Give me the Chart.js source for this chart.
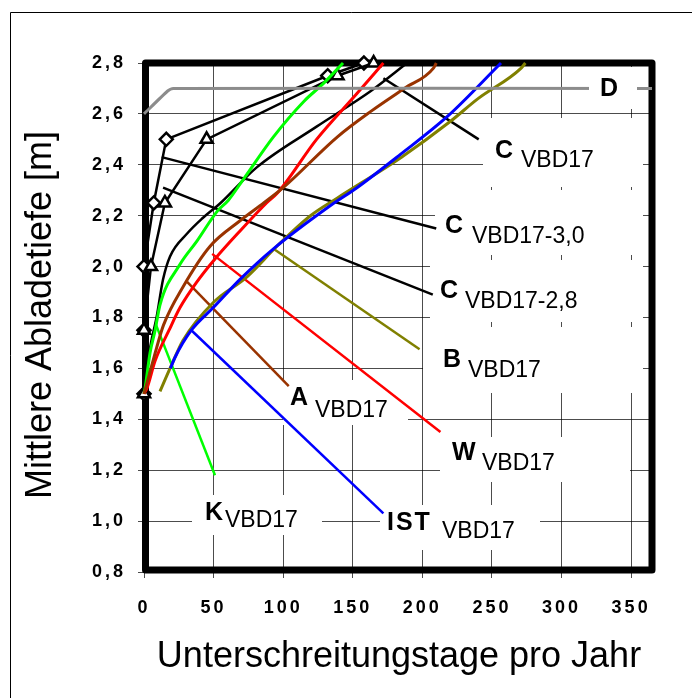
<!DOCTYPE html>
<html>
<head>
<meta charset="utf-8">
<script src="https://cdn.jsdelivr.net/npm/chart.js@4.4.0/dist/chart.umd.min.js"></script>
<style>
  html, body { margin: 0; padding: 0; background: #fff; }
  #wrap { width: 692px; height: 698px; }
</style>
</head>
<body>
<div id="wrap"><canvas id="chart" width="692" height="698"></canvas></div>
<script>
// depths at which the marked curves were computed
const markDepths = [1.5, 1.75, 2.0, 2.25, 2.5, 2.75, 2.8];
const daysC30 = [0, 0, 0, 7, 16, 132, 158];   // C VBD17-3,0 (diamonds)
const daysC28 = [0, 0, 5, 15, 45, 139, 165];  // C VBD17-2,8 (triangles)

// C VBD17
const cDays  = [0, 2, 5, 9, 13.7, 18.7, 31, 42, 55, 81, 124, 163, 189];
const cDepth = [1.5, 1.6, 1.7, 1.8, 1.95, 2.04, 2.13, 2.19, 2.25, 2.39, 2.55, 2.69, 2.8];
// K VBD17
const kDays  = [0, 1, 4.3, 8, 11.5, 26, 38, 53, 60.5, 71, 93, 115, 129, 143];
const kDepth = [1.5, 1.53, 1.66, 1.75, 1.85, 2.01, 2.1, 2.22, 2.26, 2.34, 2.51, 2.65, 2.72, 2.8];
// W VBD17
const wDays  = [0, 2, 8, 18, 26, 38, 51, 69, 88, 96, 124, 153, 172];
const wDepth = [1.5, 1.52, 1.63, 1.75, 1.84, 1.94, 2.03, 2.14, 2.25, 2.29, 2.5, 2.68, 2.8];
// A VBD17
const aDays  = [0, 4, 9, 14, 28, 47.5, 69, 86, 100, 139, 163, 187, 208, 210];
const aDepth = [1.5, 1.58, 1.68, 1.77, 1.92, 2.08, 2.18, 2.25, 2.31, 2.51, 2.61, 2.7, 2.78, 2.8];
// B VBD17
const bDays  = [11.5, 18.7, 28, 50, 74, 95.5, 119.6, 139, 185, 220, 240, 271, 274];
const bDepth = [1.51, 1.6, 1.71, 1.86, 1.96, 2.08, 2.2, 2.27, 2.43, 2.57, 2.66, 2.78, 2.8];
// IST VBD17
const istDays  = [19, 22, 34, 50, 69, 93, 134, 153, 184, 218, 256.5];
const istDepth = [1.6, 1.64, 1.75, 1.84, 1.95, 2.07, 2.24, 2.31, 2.44, 2.59, 2.8];
// D
const dDays  = [0, 17, 21, 365];
const dDepth = [2.6, 2.69, 2.7, 2.7];

// leader lines [days, depth] start -> end
const leaders = [
  { color: '#000000', from: [172, 2.74], to: [240.5, 2.5] },
  { color: '#000000', from: [12.7, 2.43], to: [210, 2.15] },
  { color: '#000000', from: [13.7, 2.31], to: [207.5, 1.89] },
  { color: '#808000', from: [93, 2.07], to: [198, 1.675] },
  { color: '#993300', from: [31, 1.94], to: [104, 1.53] },
  { color: '#ff0000', from: [49, 2.05], to: [213, 1.35] },
  { color: '#0000ff', from: [34, 1.75], to: [172, 1.03] },
  { color: '#00ff00', from: [8, 1.78], to: [51, 1.18] }
];

const xTicks = [0, 50, 100, 150, 200, 250, 300, 350];

function pts(xs, ys) { return xs.map((x, i) => ({ x: x, y: ys[i] })); }

function curve(data, color, width) {
  return { data: data, borderColor: color, borderWidth: width, pointRadius: 0,
    cubicInterpolationMode: 'monotone', fill: false, clip: 6 };
}

const datasets = [
  { data: pts(dDays, dDepth), borderColor: '#8c8c8c', borderWidth: 3, pointRadius: 0, tension: 0.2, fill: false, clip: 6 },
  curve(pts(istDays, istDepth), '#0000ff', 3),
  curve(pts(bDays, bDepth), '#808000', 3),
  curve(pts(aDays, aDepth), '#993300', 3),
  curve(pts(wDays, wDepth), '#ff0000', 3),
  curve(pts(kDays, kDepth), '#00ff00', 3),
  curve(pts(cDays, cDepth), '#000000', 2.5)
];
leaders.forEach(l => {
  datasets.push({ data: [{ x: l.from[0], y: l.from[1] }, { x: l.to[0], y: l.to[1] }],
    borderColor: l.color, borderWidth: 2.5, pointRadius: 0, tension: 0, fill: false });
});
datasets.push({ data: pts(daysC28, markDepths), borderColor: '#000', borderWidth: 2.5, tension: 0, clip: false,
  pointStyle: 'triangle', pointRadius: 7, pointBackgroundColor: '#fff', pointBorderColor: '#000', pointBorderWidth: 2.5 });
datasets.push({ data: pts(daysC30, markDepths), borderColor: '#000', borderWidth: 2.5, tension: 0, clip: false,
  pointStyle: 'rectRot', pointRadius: 6.5, pointBackgroundColor: '#fff', pointBorderColor: '#000', pointBorderWidth: 2.5 });

// text labels: main letter, subscript, positions in px (baselines); white boxes hide the grid
const labels = [
  { m: 'C', s: 'VBD17', mx: 495, my: 158, sx: 521, sy: 167, box: [483, 118, 160, 69] },
  { m: 'C', s: 'VBD17-3,0', mx: 445, my: 233, sx: 472, sy: 243, box: [435, 190, 208, 65] },
  { m: 'C', s: 'VBD17-2,8', mx: 440, my: 298, sx: 465, sy: 308, box: [430, 260, 213, 62] },
  { m: 'B', s: 'VBD17', mx: 443, my: 367, sx: 468, sy: 377, box: [423, 327, 220, 66] },
  { m: 'A', s: 'VBD17', mx: 290, my: 405, sx: 315, sy: 417, box: [283, 380, 125, 45] },
  { m: 'W', s: 'VBD17', mx: 452, my: 460, sx: 482, sy: 470, box: [440, 437, 190, 45] },
  { m: 'IST', s: 'VBD17', mx: 387, my: 530, sx: 442, sy: 538, box: [380, 505, 160, 45], sp: '2px' },
  { m: 'K', s: 'VBD17', mx: 205, my: 520, sx: 225, sy: 527, box: [192, 495, 130, 40] }
];
const dLabel = { m: 'D', mx: 600, my: 96, box: [589, 67, 48, 42] };

const FONT = '"Liberation Sans", Arial, sans-serif';

const deco = {
  id: 'deco',
  beforeDraw(chart) {
    const ctx = chart.ctx;
    ctx.save();
    ctx.fillStyle = '#fff';
    ctx.fillRect(0, 0, chart.width, chart.height);
    ctx.strokeStyle = '#000';
    ctx.lineWidth = 1;
    ctx.beginPath();
    ctx.moveTo(10.5, 698); ctx.lineTo(10.5, 12.5); ctx.lineTo(692, 12.5);
    ctx.stroke();
    ctx.restore();
    ctx.letterSpacing = '3px';
  },
  beforeDatasetsDraw(chart) {
    const ctx = chart.ctx;
    const a = chart.chartArea;
    ctx.letterSpacing = '0px';
    ctx.save();
    ctx.fillStyle = '#fff';
    labels.forEach(l => ctx.fillRect(l.box[0], l.box[1], l.box[2], l.box[3]));
    ctx.strokeStyle = '#000';
    ctx.lineWidth = 7;
    ctx.lineJoin = 'round';
    ctx.strokeRect(a.left + 1.5, a.top, a.right - a.left - 1.5, a.bottom - a.top - 2);
    ctx.restore();
  },
  afterDatasetsDraw(chart) {
    const ctx = chart.ctx;
    ctx.save();
    ctx.fillStyle = '#fff';
    ctx.fillRect(dLabel.box[0], dLabel.box[1], dLabel.box[2], dLabel.box[3]);
    ctx.restore();
  },
  afterDraw(chart) {
    const ctx = chart.ctx;
    ctx.save();
    ctx.fillStyle = '#000';
    ctx.textBaseline = 'alphabetic';
    ctx.textAlign = 'left';
    labels.forEach(l => {
      ctx.letterSpacing = l.sp || '0px';
      ctx.font = 'bold 25px ' + FONT;
      ctx.fillText(l.m, l.mx, l.my);
      ctx.letterSpacing = '0px';
      ctx.font = '23px ' + FONT;
      ctx.fillText(l.s, l.sx, l.sy);
    });
    ctx.font = 'bold 25px ' + FONT;
    ctx.fillText(dLabel.m, dLabel.mx, dLabel.my);
    ctx.font = '36px ' + FONT;
    ctx.textAlign = 'center';
    ctx.textBaseline = 'middle';
    ctx.fillText('Unterschreitungstage pro Jahr', 399, 657);
    ctx.translate(41, 315);
    ctx.rotate(-Math.PI / 2);
    ctx.fillText('Mittlere Abladetiefe [m]', 0, 0);
    ctx.restore();
  }
};

new Chart(document.getElementById('chart'), {
  type: 'line',
  data: { datasets: datasets },
  options: {
    responsive: false,
    animation: false,
    layout: { padding: { top: 63, right: 40, left: 0, bottom: 0 } },
    plugins: { legend: { display: false }, tooltip: { enabled: false } },
    scales: {
      x: {
        type: 'linear', min: 0, max: 365,
        afterFit: s => { s.height = 126; },
        afterBuildTicks: s => { s.ticks = xTicks.map(v => ({ value: v })); },
        grid: { color: 'rgba(0,0,0,0.7)', lineWidth: 1, tickLength: 6 },
        border: { display: false },
        ticks: { padding: 19, color: '#000', maxRotation: 0,
          font: { family: FONT, size: 18, weight: 'bold' } }
      },
      y: {
        type: 'linear', min: 0.8, max: 2.8,
        afterFit: s => { s.width = 144; },
        grid: { color: 'rgba(0,0,0,0.7)', lineWidth: 1, tickLength: 6 },
        border: { display: false },
        ticks: { stepSize: 0.2, padding: 12, color: '#000',
          callback: v => v.toFixed(1).replace('.', ','),
          font: { family: FONT, size: 18, weight: 'bold' } }
      }
    }
  },
  plugins: [deco]
});
</script>
</body>
</html>
